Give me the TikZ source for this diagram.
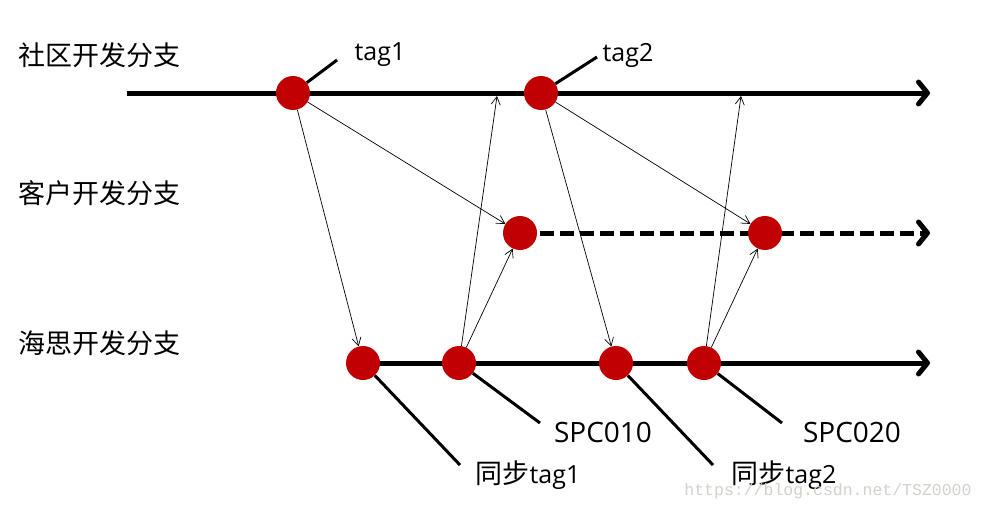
\documentclass[tikz,border=0pt]{standalone}
\usepackage{fontspec}
\setmainfont{Open Sans}
\newfontfamily\cjk{Noto Sans CJK SC}
\newfontfamily\wmfont{Liberation Mono}
\usetikzlibrary{arrows.meta,backgrounds}
\definecolor{TagRed}{RGB}{192,0,0}
\definecolor{WaterGrey}{RGB}{212,208,204}

\begin{document}
\begin{tikzpicture}[x=1pt, y=-1pt,
    commit/.style={circle, fill=TagRed, minimum size=34pt, inner sep=0pt},
    branch/.style={line width=5pt, -{Straight Barb[length=9pt, width=22pt, round]}},
    merge/.style={line width=0.7pt, -{Straight Barb[length=8pt, width=9pt]}},
    leader/.style={line width=3pt},
    bname/.style={font=\cjk\fontsize{27}{30}\selectfont, inner sep=0pt},
    tname/.style={font=\fontsize{25}{30}\selectfont, inner sep=0pt},
    sname/.style={font=\fontsize{28}{32}\selectfont, inner sep=0pt}]
    \useasboundingbox (0,0) rectangle (985,511);
    % branch names
    \node[bname] (comm) at (100,55) {社区开发分支};
    \node[bname] (cust) at (100,193) {客户开发分支};
    \node[bname] (hisi) at (100,343) {海思开发分支};
    % commits
    \node[commit] (t1) at (293,93) {};
    \node[commit] (t2) at (541,93) {};
    \node[commit] (c1) at (520,233) {};
    \node[commit] (c2) at (765,233) {};
    \node[commit] (h1) at (363,363) {};
    \node[commit] (h2) at (459,363) {};
    \node[commit] (h3) at (616,363) {};
    \node[commit] (h4) at (704,363) {};
    % branch lines
    \coordinate (cs) at (127,93);
    \coordinate (ce) at (930,93);
    \coordinate (ke) at (930,233);
    \coordinate (he) at (930,363);
    \begin{scope}[on background layer]
        \draw[branch] (cs) -- (ce);
        \draw[branch, dash pattern=on 14pt off 6pt] (c1.center) -- (ke);
        \draw[branch] (h1.center) -- (he);
    \end{scope}
    % merges
    \coordinate (m1) at (497,96);
    \coordinate (m2) at (741,96);
    \draw[merge] (t1) -- (h1);
    \draw[merge] (t1) -- (c1);
    \draw[merge] (h2) -- (m1);
    \draw[merge] (h2) -- (c1);
    \draw[merge] (t2) -- (h3);
    \draw[merge] (t2) -- (c2);
    \draw[merge] (h4) -- (m2);
    \draw[merge] (h4) -- (c2);
    % tag labels
    \node[tname] (tag1) at (380,55) {tag1};
    \node[tname] (tag2) at (628,55) {tag2};
    \node[tname] (sync1) at (528,475) {{\cjk\fontsize{27}{30}\selectfont 同步}tag1};
    \node[tname] (sync2) at (784,475) {{\cjk\fontsize{27}{30}\selectfont 同步}tag2};
    \node[sname] (spc1) at (603,432) {SPC010};
    \node[sname] (spc2) at (852,432) {SPC020};
    \coordinate (l1) at (337,60);
    \coordinate (l2) at (597,57);
    \coordinate (l3) at (460,465);
    \coordinate (l4) at (540,423);
    \coordinate (l5) at (713,465);
    \coordinate (l6) at (782,423);
    \draw[leader] (t1) -- (l1);
    \draw[leader] (t2) -- (l2);
    \draw[leader] (h1) -- (l3);
    \draw[leader] (h2) -- (l4);
    \draw[leader] (h3) -- (l5);
    \draw[leader] (h4) -- (l6);
    % watermark
    \node[font=\wmfont\fontsize{16.5}{18}\selectfont, text=WaterGrey, inner sep=0pt] (wm) at (828,491) {https://blog.csdn.net/TSZ0000};
\end{tikzpicture}
\end{document}
